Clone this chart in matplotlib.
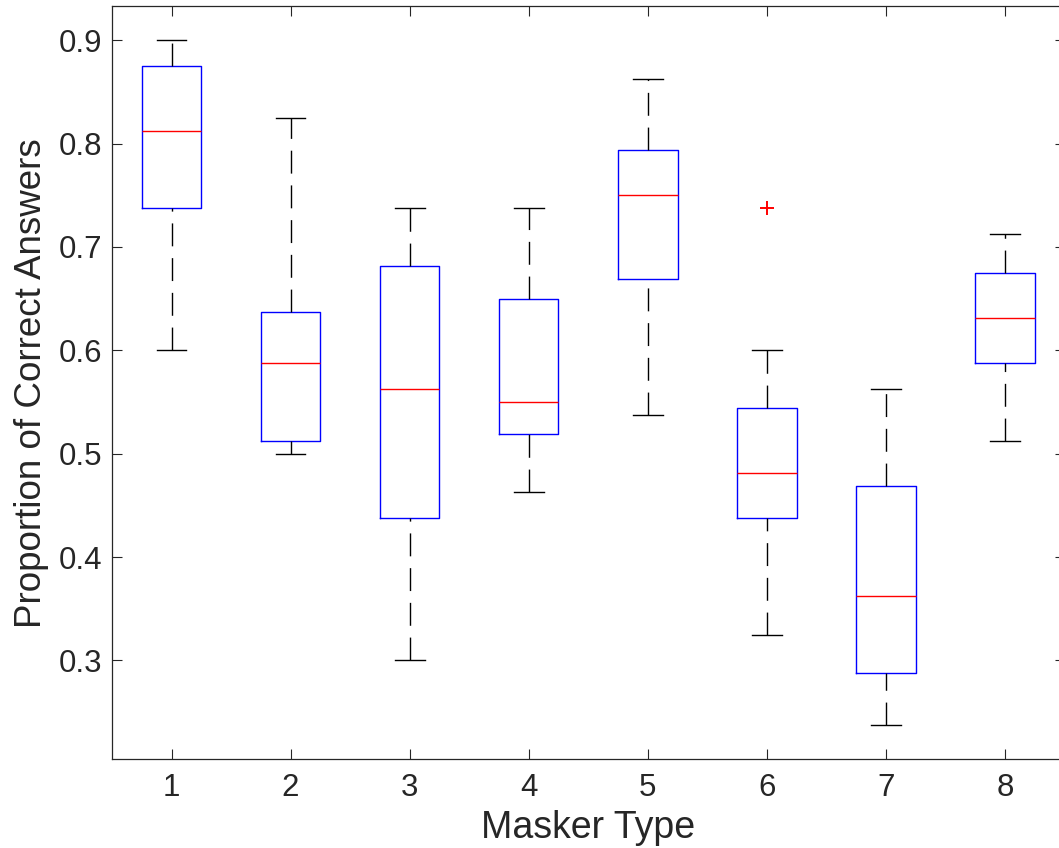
import matplotlib
matplotlib.use("Agg")
import matplotlib.pyplot as plt

# Summary statistics per masker type
masker_types = [1, 2, 3, 4, 5, 6, 7, 8]
tick_labels = ["1", "2", "3", "4", "5", "6", "7", "8"]
medians = [0.8125, 0.5875, 0.5625, 0.55, 0.75, 0.48125, 0.3625, 0.63125]
q1 = [0.7375, 0.5125, 0.4375, 0.51875, 0.66875, 0.4375, 0.2875, 0.5875]
q3 = [0.875, 0.6375, 0.68125, 0.65, 0.79375, 0.54375, 0.46875, 0.675]
whisk_lo = [0.6, 0.5, 0.3, 0.4625, 0.5375, 0.325, 0.2375, 0.5125]
whisk_hi = [0.9, 0.825, 0.7375, 0.7375, 0.8625, 0.6, 0.5625, 0.7125]
outliers = [[], [], [], [], [], [0.7375], [], []]

plt.rcParams["font.family"] = ["Liberation Sans", "DejaVu Sans"]
text_col = "#262626"

fig = plt.figure(figsize=(10.59, 8.48), dpi=100)
ax = fig.add_axes([112 / 1059, 88.7 / 848, 952.5 / 1059, 753.3 / 848])

stats = []
for i in range(len(masker_types)):
    stats.append(dict(med=medians[i], q1=q1[i], q3=q3[i],
                      whislo=whisk_lo[i], whishi=whisk_hi[i],
                      fliers=outliers[i], label=tick_labels[i]))

bp = ax.bxp(stats, positions=masker_types, widths=0.5, capwidths=0.25,
            showfliers=True,
            boxprops=dict(color="#0000ff", linewidth=1.0),
            medianprops=dict(color="#ff0000", linewidth=1.0),
            whiskerprops=dict(color="#000000", linewidth=1.0,
                              linestyle=(0, (16.5, 8.5))),
            capprops=dict(color="#000000", linewidth=1.0),
            flierprops=dict(marker="+", markeredgecolor="#ff0000",
                            markersize=10, markeredgewidth=1.4,
                            linestyle="none"))

# lower whiskers run from the cap up to the box so the dash pattern starts at the cap
for w in bp["whiskers"][0::2]:
    w.set_ydata(w.get_ydata()[::-1])

ax.set_xlim(0.5, 8.5)
ax.set_ylim(0.2044, 0.9331)
ax.set_yticks([0.3, 0.4, 0.5, 0.6, 0.7, 0.8, 0.9])
ax.set_yticklabels(["0.3", "0.4", "0.5", "0.6", "0.7", "0.8", "0.9"])
ax.set_xticks(masker_types)
ax.set_xticklabels(tick_labels)

ax.tick_params(direction="in", length=7, width=0.8, colors=text_col,
               labelsize=22.5, top=True, right=True)
ax.tick_params(axis="y", pad=7)
ax.tick_params(axis="x", pad=10)
for s in ax.spines.values():
    s.set_color(text_col)
    s.set_linewidth(0.9)

ax.set_xlabel("Masker Type", fontsize=27, color=text_col, labelpad=5)
ax.set_ylabel("Proportion of Correct Answers", fontsize=26.5, color=text_col,
              labelpad=7)

fig.savefig("out.png", dpi=100)
